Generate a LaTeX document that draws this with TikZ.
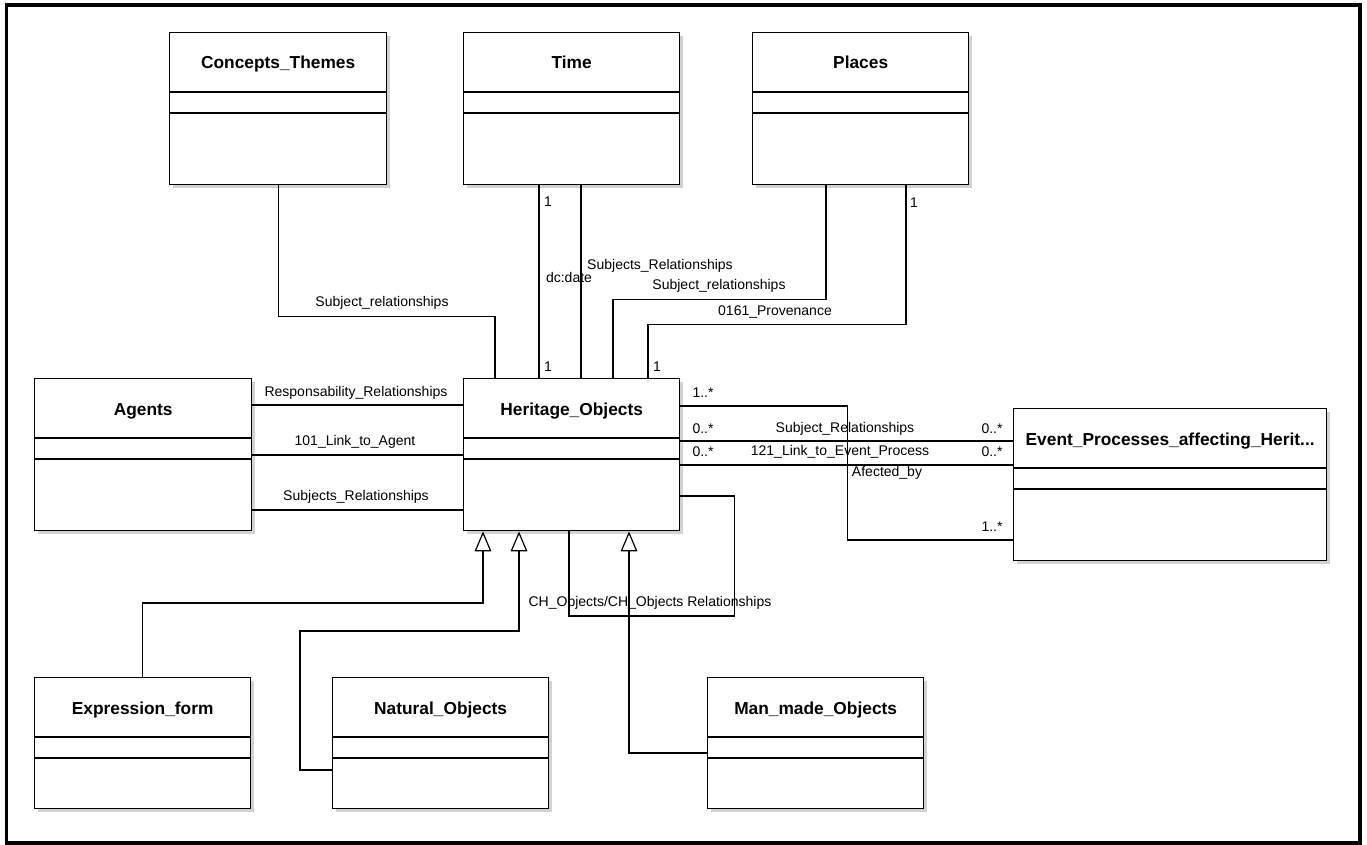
\documentclass[tikz,border=0pt]{standalone}
\usepackage{fontspec}
\setmainfont{Liberation Sans}
\usetikzlibrary{calc,shadows,arrows.meta}

\tikzset{
  classbox/.style={draw, line width=1pt, fill=white, inner sep=0pt, anchor=north west,
    drop shadow={shadow xshift=2.5pt, shadow yshift=-2.5pt, fill=black!25, opacity=0.7}},
  classtitle/.style={font=\bfseries\fontsize{13}{15}\selectfont, inner sep=0pt, anchor=base},
  divider/.style={line width=1pt},
  assoc/.style={line width=0.9pt},
  genline/.style={line width=0.9pt, -{Triangle[open, length=15pt, width=12.5pt, line width=0.9pt]}},
  lbl/.style={font=\fontsize{10.5}{12}\selectfont, inner sep=0pt}
}

\begin{document}
\begin{tikzpicture}[x=0.75pt,y=0.75pt,yscale=-1,xscale=1]
\useasboundingbox (0,0) rectangle (1367,845);

%Shape: Frame
\draw [line width=2.6pt] (6.5,5) rectangle (1360,843);

%Shape: Class boxes
\node [classbox, minimum width=162.75pt, minimum height=114pt] (concepts) at (169,32) {};
\node [classbox, minimum width=162pt, minimum height=114pt] (time) at (463,32) {};
\node [classbox, minimum width=162pt, minimum height=114pt] (places) at (752,32) {};
\node [classbox, minimum width=162.75pt, minimum height=114pt] (agents) at (34,378) {};
\node [classbox, minimum width=162pt, minimum height=114pt] (heritage) at (463,378) {};
\node [classbox, minimum width=234.75pt, minimum height=114pt] (event) at (1013,408) {};
\node [classbox, minimum width=162pt, minimum height=98.25pt] (expression) at (34,677) {};
\node [classbox, minimum width=162pt, minimum height=98.25pt] (natural) at (332,677) {};
\node [classbox, minimum width=162pt, minimum height=98.25pt] (manmade) at (707,677) {};

%Shape: Compartment lines
\foreach \c in {concepts,time,places,agents,heritage,event,expression,natural,manmade}{
  \draw [divider] ($(\c.north west)+(0,60)$) -- ($(\c.north east)+(0,60)$);
  \draw [divider] ($(\c.north west)+(0,81)$) -- ($(\c.north east)+(0,81)$);
}

% Text Node
\node [classtitle] (conceptsT) at ($(concepts.north)+(0,37)$) {Concepts\_Themes};
\node [classtitle] (timeT) at ($(time.north)+(0,37)$) {Time};
\node [classtitle] (placesT) at ($(places.north)+(0,37)$) {Places};
\node [classtitle] (agentsT) at ($(agents.north)+(0,37)$) {Agents};
\node [classtitle] (heritageT) at ($(heritage.north)+(0,37)$) {Heritage\_Objects};
\node [classtitle] (eventT) at ($(event.north)+(0,37)$) {Event\_Processes\_affecting\_Herit...};
\node [classtitle] (expressionT) at ($(expression.north)+(0,37)$) {Expression\_form};
\node [classtitle] (naturalT) at ($(natural.north)+(0,37)$) {Natural\_Objects};
\node [classtitle] (manmadeT) at ($(manmade.north)+(0,37)$) {Man\_made\_Objects};

%Straight Lines: associations to the top classes
\draw [assoc] (concepts.south) -- ++(0,131) -| ($(heritage.north west)+(32,0)$);
\draw [assoc] ($(time.south west)+(76,0)$) -- ($(heritage.north west)+(76,0)$);
\draw [assoc] ($(time.south west)+(118,0)$) -- ($(heritage.north west)+(118,0)$);
\draw [assoc] ($(places.south west)+(74,0)$) -- ++(0,114) -| ($(heritage.north west)+(150,0)$);
\draw [assoc] ($(places.south west)+(154,0)$) -- ++(0,139) -| ($(heritage.north west)+(185,0)$);

%Straight Lines: Agents
\draw [assoc] ($(agents.north east)+(0,27)$) -- ($(heritage.north west)+(0,27)$);
\draw [assoc] ($(agents.north east)+(0,77)$) -- ($(heritage.north west)+(0,77)$);
\draw [assoc] ($(agents.north east)+(0,132)$) -- ($(heritage.north west)+(0,132)$);

%Straight Lines: Event processes
\draw [assoc] ($(heritage.north east)+(0,28)$) -- ++(167,0) |- ($(event.north west)+(0,132)$);
\draw [assoc] ($(heritage.north east)+(0,63)$) -- ($(event.north west)+(0,33)$);
\draw [assoc] ($(heritage.north east)+(0,87)$) -- ($(event.north west)+(0,57)$);

%Straight Lines: self association
\draw [assoc] ($(heritage.north east)+(0,118)$) -- ++(54,0) -- ++(0,120) -| ($(heritage.south west)+(106,0)$);

%Straight Lines: generalisations
\draw [genline] (expression.north) -- ++(0,-74) -| ($(heritage.south west)+(20,0)$);
\draw [genline] ($(natural.north west)+(0,93)$) -- ++(-32,0) -- ++(0,-139) -| ($(heritage.south west)+(56,0)$);
\draw [genline] ($(manmade.north west)+(0,76)$) -| ($(heritage.south west)+(166,0)$);

% Text Node
\node [lbl] (l1) at (382,303) {Subject\_relationships};
\node [lbl] (l2) at (548,202) {1};
\node [lbl] (l3) at (548,367) {1};
\node [lbl] (l4) at (569,277) {dc:date};
\node [lbl] (l5) at (660,266) {Subjects\_Relationships};
\node [lbl] (l6) at (719,286) {Subject\_relationships};
\node [lbl] (l7) at (914,203) {1};
\node [lbl] (l8) at (775,312) {0161\_Provenance};
\node [lbl] (l9) at (657,367) {1};
\node [lbl] (l10) at (356,393) {Responsability\_Relationships};
\node [lbl] (l11) at (355,442) {101\_Link\_to\_Agent};
\node [lbl] (l12) at (356,497) {Subjects\_Relationships};
\node [lbl] (l13) at (703,393) {1..*};
\node [lbl] (l14) at (703,429) {0..*};
\node [lbl] (l15) at (845,429) {Subject\_Relationships};
\node [lbl] (l16) at (992,429) {0..*};
\node [lbl] (l17) at (703,452) {0..*};
\node [lbl] (l18) at (840,452) {121\_Link\_to\_Event\_Process};
\node [lbl] (l19) at (992,452) {0..*};
\node [lbl] (l20) at (887,473) {Afected\_by};
\node [lbl] (l21) at (992,527) {1..*};
\node [lbl] (l22) at (650,603) {CH\_Objects/CH\_Objects Relationships};

\end{tikzpicture}
\end{document}
